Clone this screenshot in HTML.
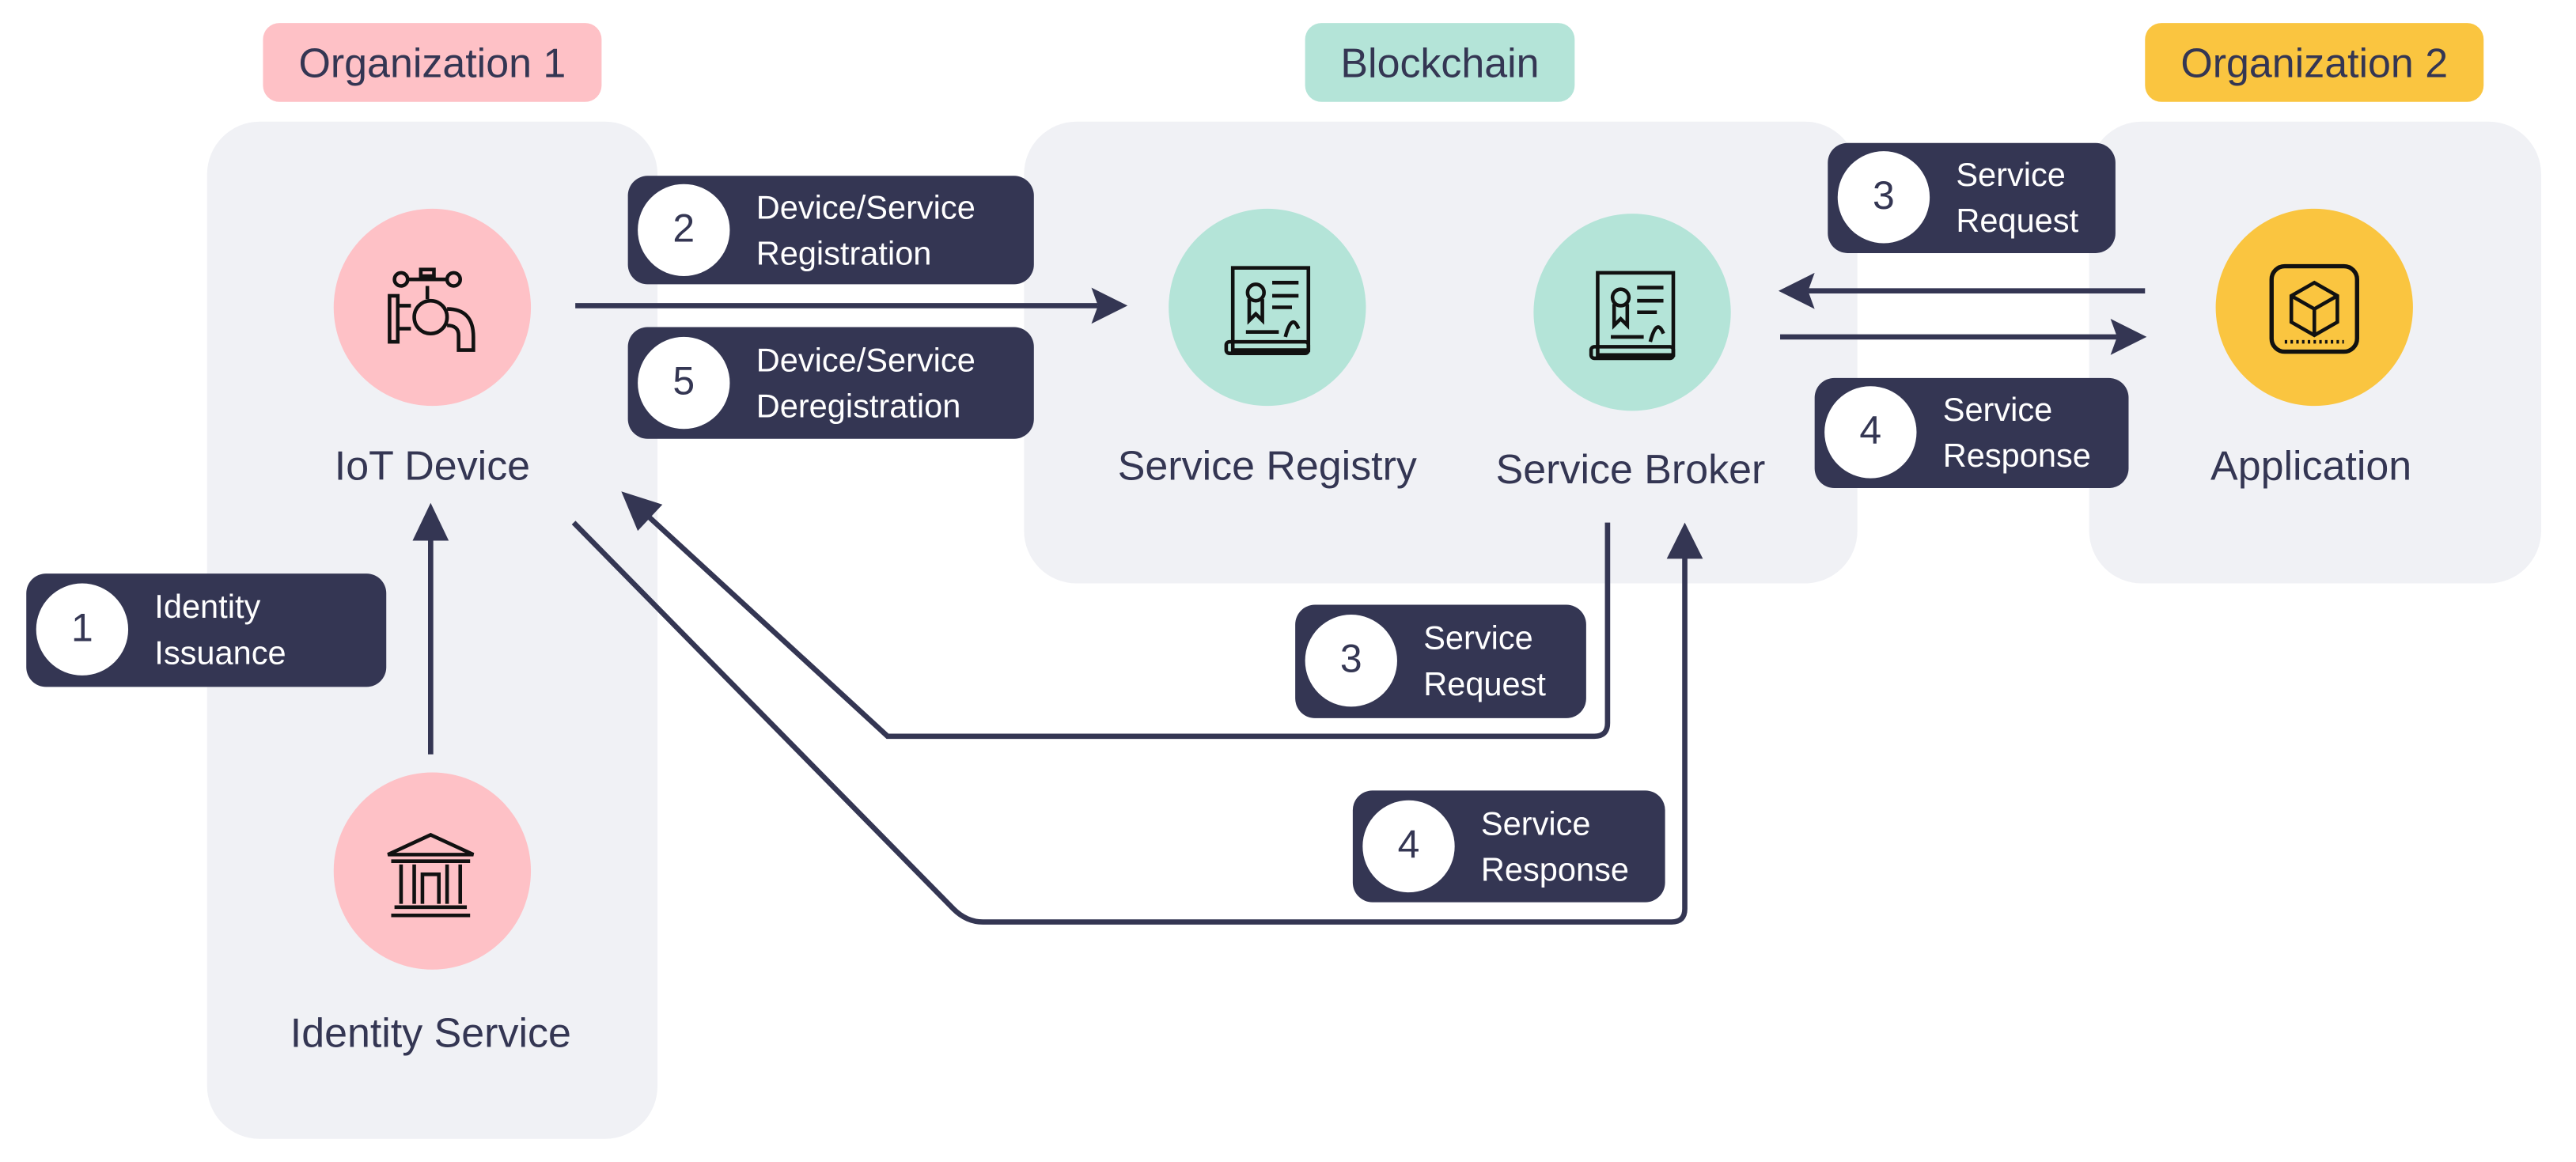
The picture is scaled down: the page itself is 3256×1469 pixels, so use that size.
<!DOCTYPE html>
<html><head><meta charset="utf-8"><style>
html,body{margin:0;padding:0;background:#fff;width:3256px;height:1469px;overflow:hidden}
#s{position:absolute;left:0;top:0;width:1568px;height:707px;transform:scale(2.0776);transform-origin:0 0;font-family:"Liberation Sans",sans-serif;color:#343653}
.a{position:absolute}
.tag{position:absolute;border-radius:10px;font-size:25px;text-align:center;line-height:50px;height:48px;top:14px}
.panel{position:absolute;background:#f0f1f5;border-radius:32px}
.c{position:absolute;width:120px;height:120px;border-radius:50%}
.lbl{position:absolute;font-size:25px;width:240px;text-align:center}
.b{position:absolute;background:#343653;border-radius:12px;color:#fff;font-size:20px;line-height:28px}
.b .n{position:absolute;left:6px;width:56px;height:56px;border-radius:50%;background:#fff;color:#343653;font-size:24px;text-align:center;line-height:56px}
.b .t{position:absolute;left:78px}
</style></head><body><div id="s">
<div class="tag" style="left:160px;width:206px;background:#fec1c6">Organization 1</div>
<div class="tag" style="left:794px;width:164px;background:#b4e4d8">Blockchain</div>
<div class="tag" style="left:1305px;width:206px;background:#fac540">Organization 2</div>
<div class="panel" style="left:126px;top:74px;width:274px;height:619px"></div>
<div class="panel" style="left:623px;top:74px;width:507px;height:281px"></div>
<div class="panel" style="left:1271px;top:74px;width:275px;height:281px"></div>

<div class="c" style="left:203px;top:127px;background:#fec1c6"></div>
<div class="c" style="left:203px;top:470px;background:#fec1c6"></div>
<div class="c" style="left:711px;top:127px;background:#b4e4d8"></div>
<div class="c" style="left:933px;top:130px;background:#b4e4d8"></div>
<div class="c" style="left:1348px;top:127px;background:#fac540"></div>

<div class="lbl" style="left:143px;top:270px">IoT Device</div>
<div class="lbl" style="left:142px;top:615px">Identity Service</div>
<div class="lbl" style="left:651px;top:270px">Service Registry</div>
<div class="lbl" style="left:872px;top:272px">Service Broker</div>
<div class="lbl" style="left:1286px;top:270px">Application</div>

<svg class="a" style="left:0;top:0" width="1568" height="707" viewBox="0 0 1568 707">
<g fill="none" stroke="#343653" stroke-width="3.2">
<line x1="350" y1="186" x2="668" y2="186"/>
<line x1="262" y1="459" x2="262" y2="325"/>
<path d="M978,318 V440 Q978,448 970,448 H540 L392,312"/>
<path d="M349,318 L580,553 Q588,561 598,561 H1017 Q1025,561 1025,553 V336"/>
<line x1="1305" y1="177" x2="1100" y2="177"/>
<line x1="1083" y1="205" x2="1288" y2="205"/>
</g>
<g fill="#343653">
<path d="M686,186 L664,175 L668,186 L664,197Z"/>
<path d="M262,306 L251,329 L273,329Z"/>
<path d="M378,299 L388,323 L403,307Z"/>
<path d="M1025,318 L1014,340 L1036,340Z"/>
<path d="M1082,177 L1104,166 L1100,177 L1104,188Z"/>
<path d="M1306,205 L1284,194 L1288,205 L1284,216Z"/>
</g>
<g fill="none" stroke="#111" stroke-width="2.2">
<circle cx="244" cy="170" r="4"/><circle cx="276" cy="170" r="4"/><line x1="248" y1="170" x2="272" y2="170"/>
<rect x="256" y="164" width="8" height="4"/><line x1="260" y1="174" x2="260" y2="182"/>
<rect x="237" y="180" width="5" height="28"/><line x1="242" y1="186" x2="250" y2="186"/><line x1="242" y1="200" x2="250" y2="200"/>
<circle cx="262" cy="193" r="10"/><path d="M272,188 Q288,188 288,205 V213 H279 V204 Q279,198 272,198"/>
<rect x="750" y="163" width="46" height="50"/><rect x="746" y="208" width="50" height="7" rx="2"/>
<circle cx="764" cy="178" r="5"/><path d="M760,182 V195 L764,191 L768,195 V182"/>
<line x1="774" y1="172" x2="790" y2="172"/><line x1="774" y1="180" x2="790" y2="180"/><line x1="774" y1="187" x2="786" y2="187"/>
<path d="M758,202 H778"/><path d="M782,205 Q786,190 790,200"/>
<rect x="972" y="166" width="46" height="50"/><rect x="968" y="211" width="50" height="7" rx="2"/>
<circle cx="986" cy="181" r="5"/><path d="M982,185 V198 L986,194 L990,198 V185"/>
<line x1="996" y1="175" x2="1012" y2="175"/><line x1="996" y1="183" x2="1012" y2="183"/><line x1="996" y1="190" x2="1008" y2="190"/>
<path d="M980,205 H1000"/><path d="M1004,208 Q1008,193 1012,203"/>
<rect x="1382" y="162" width="52" height="52" rx="8" stroke-width="2.6"/>
<path d="M1408,172 L1422,180 V196 L1408,204 L1394,196 V180Z M1394,180 L1408,188 L1422,180 M1408,188 V204"/>
<line x1="1390" y1="208" x2="1426" y2="208" stroke-dasharray="1.5 2"/>
<path d="M236,520 L262,508 L288,520Z M238,524 H286 M240,552 H284 M238,557 H286"/>
<line x1="244" y1="526" x2="244" y2="550"/><line x1="252" y1="526" x2="252" y2="550"/><line x1="272" y1="526" x2="272" y2="550"/><line x1="280" y1="526" x2="280" y2="550"/>
<path d="M257,550 V532 H267 V550"/>
</g>
</svg>

<div class="b" style="left:382px;top:107px;width:247px;height:66px"><div class="n" style="top:5px">2</div><div class="t" style="top:6px">Device/Service<br>Registration</div></div>
<div class="b" style="left:382px;top:199px;width:247px;height:68px"><div class="n" style="top:6px">5</div><div class="t" style="top:7px">Device/Service<br>Deregistration</div></div>
<div class="b" style="left:16px;top:349px;width:219px;height:69px"><div class="n" style="top:6px">1</div><div class="t" style="top:7px">Identity<br>Issuance</div></div>
<div class="b" style="left:1112px;top:87px;width:175px;height:67px"><div class="n" style="top:5px">3</div><div class="t" style="top:6px">Service<br>Request</div></div>
<div class="b" style="left:1104px;top:230px;width:191px;height:67px"><div class="n" style="top:5px">4</div><div class="t" style="top:6px">Service<br>Response</div></div>
<div class="b" style="left:788px;top:368px;width:177px;height:69px"><div class="n" style="top:6px">3</div><div class="t" style="top:7px">Service<br>Request</div></div>
<div class="b" style="left:823px;top:481px;width:190px;height:68px"><div class="n" style="top:6px">4</div><div class="t" style="top:7px">Service<br>Response</div></div>
</div></body></html>
